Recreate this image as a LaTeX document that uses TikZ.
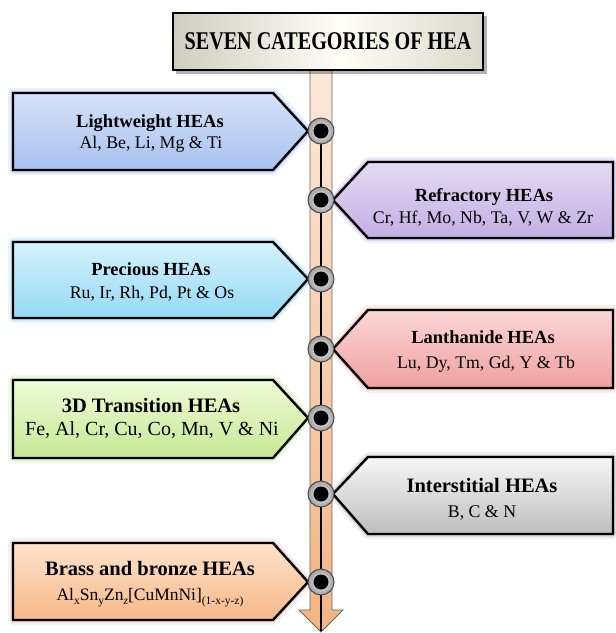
\documentclass[tikz,border=0pt]{standalone}
\usepackage{fontspec}
\setmainfont{Liberation Serif}
\usepackage{graphicx}
\definecolor{lwT}{HTML}{D5E2F8}\definecolor{lwB}{HTML}{A8C1EF}\definecolor{lwG}{HTML}{6F9BE0}
\definecolor{rfT}{HTML}{E3DAF3}\definecolor{rfB}{HTML}{C3AFE4}\definecolor{rfG}{HTML}{9C83D0}
\definecolor{prT}{HTML}{D5F2FC}\definecolor{prB}{HTML}{95D9F3}\definecolor{prG}{HTML}{4EC0EA}
\definecolor{lnT}{HTML}{FBD6D6}\definecolor{lnB}{HTML}{EFA0A0}\definecolor{lnG}{HTML}{E39090}
\definecolor{tdT}{HTML}{EEFBD8}\definecolor{tdB}{HTML}{C6E894}\definecolor{tdG}{HTML}{9BD25B}
\definecolor{inT}{HTML}{F6F6F6}\definecolor{inB}{HTML}{BEBEBE}\definecolor{inG}{HTML}{909090}
\definecolor{brT}{HTML}{FDE3CC}\definecolor{brB}{HTML}{F6B888}\definecolor{brG}{HTML}{D89A9A}
\definecolor{stemT}{HTML}{FDE8DA}\definecolor{stemB}{HTML}{F2B482}
\definecolor{metal}{HTML}{9A9682}\definecolor{metalR}{HTML}{A6A38F}\definecolor{metalM}{HTML}{FFFEF4}
\pgfdeclarehorizontalshading{metalsh}{100bp}{color(0bp)=(metal); color(20bp)=(metal!55!metalM); color(52bp)=(metalM); color(80bp)=(metalR!50!metalM); color(100bp)=(metalR)}
\newcommand\sbs[1]{\raisebox{-4pt}{\fontsize{11.5}{12}\selectfont #1}}
\newcommand\lbox[6]{%
  \path[glowA, draw=#6] (13,#1) -- (273,#1) -- (308,#3) -- (273,#2) -- (13,#2) -- cycle;
  \path[glowB, draw=#6] (13,#1) -- (273,#1) -- (308,#3) -- (273,#2) -- (13,#2) -- cycle;
  \path[boxline, top color=#4, bottom color=#5] (13,#1) -- (273,#1) -- (308,#3) -- (273,#2) -- (13,#2) -- cycle;}
\newcommand\rbox[6]{%
  \path[glowA, draw=#6] (613,#1) -- (368,#1) -- (333,#3) -- (368,#2) -- (613,#2) -- cycle;
  \path[glowB, draw=#6] (613,#1) -- (368,#1) -- (333,#3) -- (368,#2) -- (613,#2) -- cycle;
  \path[boxline, top color=#4, bottom color=#5] (613,#1) -- (368,#1) -- (333,#3) -- (368,#2) -- (613,#2) -- cycle;}
\begin{document}
\begin{tikzpicture}[x=1pt,y=-1pt,
  boxline/.style={draw=black, line width=2.4pt, line join=miter},
  glowA/.style={line width=10pt, draw opacity=0.15, line join=round},
  glowB/.style={line width=5pt, draw opacity=0.3, line join=round},
  dot/.style={circle, minimum size=26pt, inner sep=0pt, draw=black!70, line width=1pt,
    inner color=white, outer color=black!38,
    path picture={\fill[black] (path picture bounding box.center) circle (7.5pt);}},
  ttl/.style={anchor=base, inner sep=0pt, font=\fontsize{18.5}{20}\selectfont\bfseries},
  ttlb/.style={anchor=base, inner sep=0pt, font=\fontsize{20.5}{22}\selectfont\bfseries},
  sub/.style={anchor=base, inner sep=0pt, font=\fontsize{17.8}{20}\selectfont},
  subb/.style={anchor=base, inner sep=0pt, font=\fontsize{20}{22}\selectfont}]
\useasboundingbox (0,0) rectangle (616,633);
% boxes
\lbox{93}{170}{131}{lwT}{lwB}{lwG}
\rbox{162}{238}{200}{rfT}{rfB}{rfG}
\lbox{242}{318}{279}{prT}{prB}{prG}
\rbox{310}{388}{349}{lnT}{lnB}{lnG}
\lbox{380}{458}{418}{tdT}{tdB}{tdG}
\rbox{457}{534}{494}{inT}{inB}{inG}
\lbox{543}{620}{582}{brT}{brB}{brG}
% stem
\path[draw=black!60, line width=0.8pt, top color=stemT, bottom color=stemB]
  (310,70) -- (310,610) -- (299,610) -- (321,632) -- (343,610) -- (332,610) -- (332,70) -- cycle;
\coordinate (p1) at (321,131);
\coordinate (p2) at (321,200);
\coordinate (p3) at (321,279);
\coordinate (p4) at (321,349);
\coordinate (p5) at (321,418);
\coordinate (p6) at (321,494);
\coordinate (p7) at (321,582);
\coordinate (tip) at (321,631);
\draw[line width=2.6pt] (p1) -- (tip);
\foreach \i in {1,...,7} {\node[dot] (c\i) at (p\i) {};}
% title
\fill[black, opacity=0.3] (176,16) rectangle (487,74);
\path[draw=black, line width=2.5pt, shade, shading=metalsh] (173,13) rectangle (483,70);
\node[inner sep=0pt, font=\fontsize{25.5}{26}\selectfont\bfseries] (title) at (328,41.5)
  {\scalebox{0.79}[1]{SEVEN CATEGORIES OF HEA}};
% texts
\node[ttl] (lwt) at (150,127) {Lightweight HEAs};
\node[sub] (lws) at (151,148) {Al, Be, Li, Mg \& Ti};
\node[ttl] (rft) at (484,201) {Refractory HEAs};
\node[sub] (rfs) at (483,223) {Cr, Hf, Mo, Nb, Ta, V, W \& Zr};
\node[ttl] (prt) at (151,275) {Precious HEAs};
\node[sub] (prs) at (152,298) {Ru, Ir, Rh, Pd, Pt \& Os};
\node[ttl] (lnt) at (483,343) {Lanthanide HEAs};
\node[sub] (lns) at (486,368) {Lu, Dy, Tm, Gd, Y \& Tb};
\node[ttlb] (tdt) at (151,412) {3D Transition HEAs};
\node[subb] (tds) at (152,435) {Fe, Al, Cr, Cu, Co, Mn, V \& Ni};
\node[ttlb] (int) at (482,492) {Interstitial HEAs};
\node[sub] (ins) at (482,517) {B, C \& N};
\node[ttlb] (brt) at (150,575) {Brass and bronze HEAs};
\node[sub, font=\fontsize{17.5}{20}\selectfont] (brs) at (150,600)
  {Al\sbs{x}Sn\sbs{y}Zn\sbs{\itshape z}[CuMnNi]\sbs{(1-x-y-z)}};
\end{tikzpicture}
\end{document}
